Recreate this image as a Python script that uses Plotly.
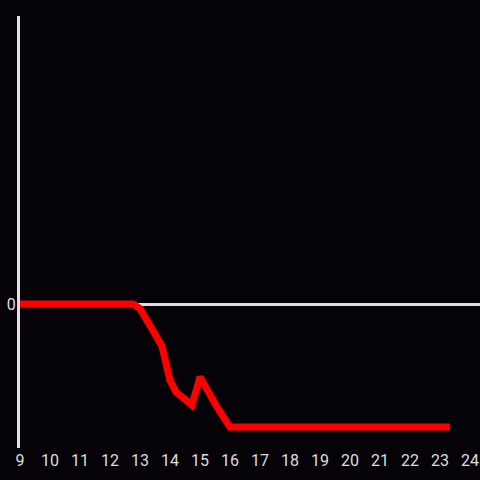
import plotly.graph_objects as go

x_vals = [9, 12.77, 13.0, 13.73, 14.0, 14.2, 14.73, 15.0, 15.56, 16.0, 23.33]
y_vals = [0, 0, -0.15, -1.4, -2.55, -2.93, -3.37, -2.43, -3.42, -4.1, -4.1]
x_ticks = list(range(9, 25))
y_ticks = [0]

fig = go.Figure()
fig.add_trace(go.Scatter(x=x_vals, y=y_vals, mode="lines",
                         line=dict(color="#ff0000", width=7), showlegend=False))

fig.update_layout(
    width=480, height=480,
    paper_bgcolor="#050307", plot_bgcolor="#050307",
    margin=dict(l=20, r=0, t=16, b=32),
    font=dict(family="Roboto", size=16, color="#dddddd"),
    xaxis=dict(range=[9, 24.3333], tickvals=x_ticks, ticktext=[str(t) for t in x_ticks],
               showgrid=False, zeroline=False, showline=False, ticks="", ticklabelstandoff=1),
    yaxis=dict(range=[-4.8, 9.6], tickvals=y_ticks, ticktext=["0"],
               showgrid=False, zeroline=True, zerolinecolor="#e0e0e0", zerolinewidth=3,
               showline=True, linecolor="#e0e0e0", linewidth=3, ticks="", ticklabelstandoff=-2),
)

fig.write_html("out.html", config={"displayModeBar": False},
               post_script="document.body.style.margin='0';document.body.style.background='#050307';")
